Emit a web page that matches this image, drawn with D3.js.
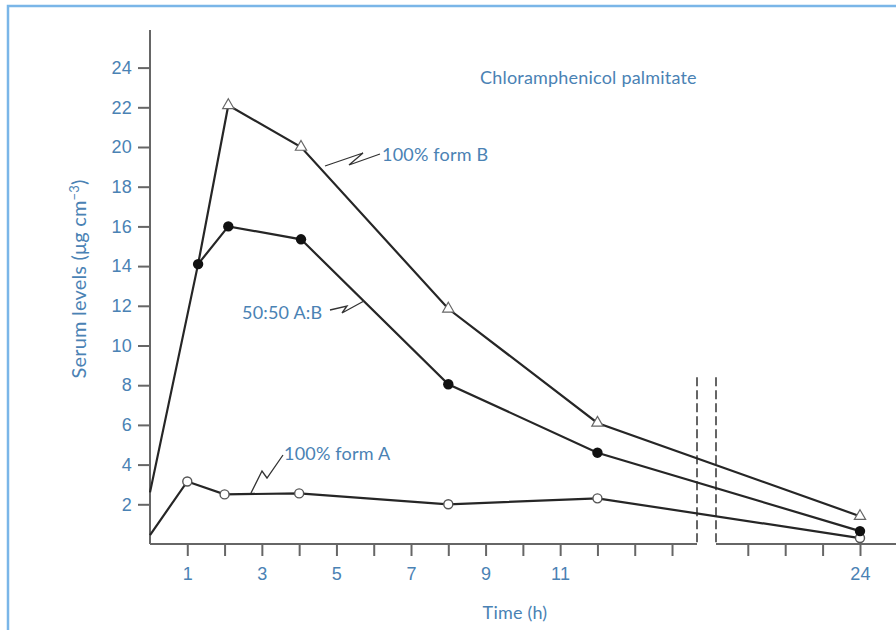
<html>
  <head>
    <script src="https://cdnjs.cloudflare.com/ajax/libs/d3/7.8.5/d3.min.js"></script>
    <meta charset="UTF-8">
    <title>Chloramphenicol palmitate</title>
    <style>
      body {
        margin: 0;
        background: #fff;
        font-family: 'Lato', 'Open Sans', sans-serif;
      }
      .tick-label, .note, .axis-title {
        fill: #4a82b4;
        font-size: 18px;
        letter-spacing: 0.2px;
      }
      .series {
        fill: none;
        stroke: #262626;
        stroke-width: 2.2px;
      }
      .leader {
        fill: none;
        stroke: #333;
        stroke-width: 1.3px;
      }
      .axis-line {
        stroke: #666;
        stroke-width: 2px;
      }
    </style>
  </head>
  <body>
    <svg id="chart" width="896" height="630"></svg>
    <script>
      // time (h) and serum levels (ug cm-3)
      const formBTime = [0, 1.29, 2.1, 4.05, 8, 12, 24]
      const formBLevel = [2.6, 14.1, 22.1, 20.0, 11.85, 6.1, 1.4]
      const formBMarked = [false, false, true, true, true, true, true]

      const mixTime = [1.29, 2.1, 4.05, 8, 12, 24]
      const mixLevel = [14.1, 16.0, 15.35, 8.05, 4.6, 0.65]

      const formATime = [0, 1, 2, 4, 8, 12, 24]
      const formALevel = [0.45, 3.15, 2.5, 2.55, 2.0, 2.3, 0.3]
      const formAMarked = [false, true, true, true, true, true, true]

      const yTicks = [2, 4, 6, 8, 10, 12, 14, 16, 18, 20, 22, 24]
      const xTicks = [1, 2, 3, 4, 5, 6, 7, 8, 9, 10, 11, 12, 13, 14, 21, 22, 23, 24]
      const xTickLabels = [1, 3, 5, 7, 9, 11, 24]
      const axisBreak = [14.67, 20.15]

      const width = 896
      const height = 630

      const svg = d3.select('#chart')

      // light blue frame around the figure
      svg.append('rect')
        .attr('x', 8).attr('y', 6)
        .attr('width', 920).attr('height', 660)
        .attr('fill', 'none')
        .attr('stroke', '#7ab6e8')
        .attr('stroke-width', 2.5)

      // broken time axis: 0..14.67 then 20.15..24
      const x = d3.scaleLinear()
        .domain([0, axisBreak[0], axisBreak[1], 24])
        .range([150, 697, 716, 860])

      const y = d3.scaleLinear()
        .domain([0, 24])
        .range([544, 67.6])

      const axisTop = y(25.9)

      // y axis
      svg.append('line')
        .attr('class', 'axis-line')
        .attr('x1', x(0)).attr('x2', x(0))
        .attr('y1', axisTop).attr('y2', y(0))

      const yAxis = d3.axisLeft(y)
        .tickValues(yTicks)
        .tickSize(12)
        .tickPadding(6)

      const gy = svg.append('g')
        .attr('transform', `translate(${x(0)},0)`)
        .call(yAxis)
      gy.select('.domain').remove()
      gy.selectAll('.tick line').attr('stroke', '#666').attr('stroke-width', 2)
      gy.selectAll('.tick text')
        .attr('class', 'tick-label')
        .attr('fill', null)
        .style('font-size', '18px')
        .style('font-family', null)

      // x axis in two pieces around the break
      svg.append('line')
        .attr('class', 'axis-line')
        .attr('x1', x(0)).attr('x2', x(axisBreak[0]))
        .attr('y1', y(0)).attr('y2', y(0))
      svg.append('line')
        .attr('class', 'axis-line')
        .attr('x1', x(axisBreak[1])).attr('x2', width)
        .attr('y1', y(0)).attr('y2', y(0))

      const xAxis = d3.axisBottom(x)
        .tickValues(xTicks)
        .tickSize(12)
        .tickPadding(11)
        .tickFormat(d => xTickLabels.includes(d) ? d : '')

      const gx = svg.append('g')
        .attr('transform', `translate(0,${y(0)})`)
        .call(xAxis)
      gx.select('.domain').remove()
      gx.selectAll('.tick line').attr('stroke', '#666').attr('stroke-width', 2)
      gx.selectAll('.tick text')
        .attr('class', 'tick-label')
        .attr('fill', null)
        .style('font-size', '18px')
        .style('font-family', null)

      // dashed break markers
      axisBreak.forEach(t => {
        svg.append('line')
          .attr('x1', x(t)).attr('x2', x(t))
          .attr('y1', y(8.4)).attr('y2', y(0))
          .attr('stroke', '#333')
          .attr('stroke-width', 1.5)
          .attr('stroke-dasharray', '9,4')
      })

      // axis titles
      svg.append('text')
        .attr('class', 'axis-title')
        .attr('x', 515).attr('y', 619)
        .attr('text-anchor', 'middle')
        .text('Time (h)')

      const ylab = svg.append('text')
        .attr('class', 'axis-title')
        .attr('transform', 'translate(86,279) rotate(-90)')
        .attr('text-anchor', 'middle')
        .style('font-size', '20px')
      ylab.append('tspan').text('Serum levels (μg cm')
      ylab.append('tspan').attr('dy', -7).style('font-size', '13px').text('−3')
      ylab.append('tspan').attr('dy', 7).text(')')

      svg.append('text')
        .attr('class', 'note')
        .attr('x', 480).attr('y', 84)
        .text('Chloramphenicol palmitate')

      // series lines
      const line = d3.line()
        .x(d => x(d[0]))
        .y(d => y(d[1]))

      const formB = formBTime.map((t, i) => [t, formBLevel[i], formBMarked[i]])
      const mix = mixTime.map((t, i) => [t, mixLevel[i], true])
      const formA = formATime.map((t, i) => [t, formALevel[i], formAMarked[i]])

      svg.append('path').attr('class', 'series').attr('d', line(formA))
      svg.append('path').attr('class', 'series').attr('d', line(mix))
      svg.append('path').attr('class', 'series').attr('d', line(formB))

      // markers
      svg.selectAll('.mark-a')
        .data(formA.filter(d => d[2]))
        .enter().append('circle')
        .attr('cx', d => x(d[0]))
        .attr('cy', d => y(d[1]))
        .attr('r', 4.5)
        .attr('fill', '#fff')
        .attr('stroke', '#555')
        .attr('stroke-width', 1.4)

      svg.selectAll('.mark-mix')
        .data(mix)
        .enter().append('circle')
        .attr('cx', d => x(d[0]))
        .attr('cy', d => y(d[1]))
        .attr('r', 5.2)
        .attr('fill', '#111')

      const tri = d3.symbol().type(d3.symbolTriangle).size(55)
      svg.selectAll('.mark-b')
        .data(formB.filter(d => d[2]))
        .enter().append('path')
        .attr('d', tri)
        .attr('transform', d => `translate(${x(d[0])},${y(d[1])})`)
        .attr('fill', '#fff')
        .attr('stroke', '#666')
        .attr('stroke-width', 1.2)

      // labels with zigzag leaders
      svg.append('text').attr('class', 'note')
        .attr('x', 382).attr('y', 161)
        .text('100% form B')
      svg.append('path').attr('class', 'leader')
        .attr('d', 'M325,166 L363,153 L349,165 L380,154')

      svg.append('text').attr('class', 'note')
        .attr('x', 242).attr('y', 319)
        .text('50:50 A:B')
      svg.append('path').attr('class', 'leader')
        .attr('d', 'M330,310 L347,306 L342,313 L364,301')

      svg.append('text').attr('class', 'note')
        .attr('x', 284).attr('y', 460)
        .text('100% form A')
      svg.append('path').attr('class', 'leader')
        .attr('d', 'M283,455 L267,478 L262,471 L251,493')
    </script>
  </body>
</html>
